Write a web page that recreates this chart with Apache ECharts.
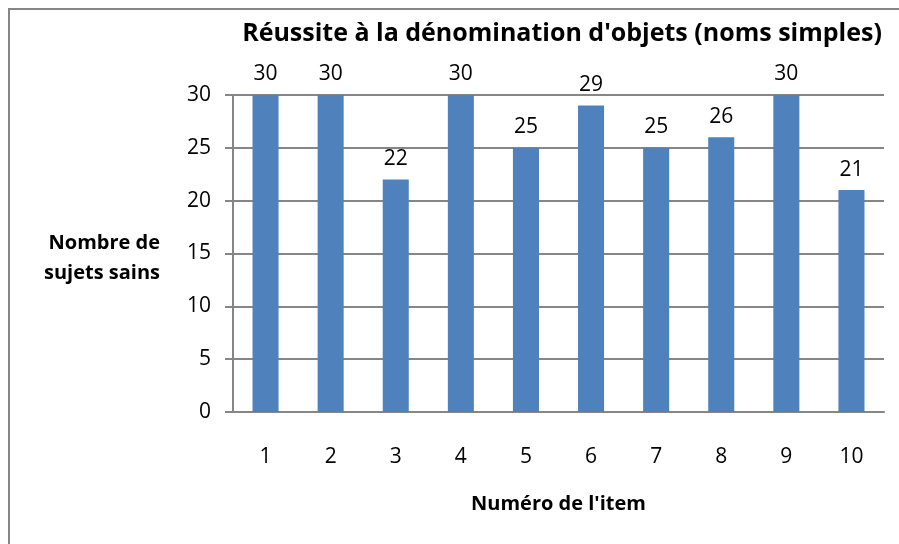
<!DOCTYPE html>
<html>
<head>
<meta charset="utf-8">
<script src="https://cdn.jsdelivr.net/npm/echarts@6/dist/echarts.min.js"></script>
<style>
  html, body { margin: 0; padding: 0; background: #fff; }
  #chart { width: 899px; height: 544px; }
</style>
</head>
<body>
<div id="chart"></div>
<script>
// données
const items = ["1", "2", "3", "4", "5", "6", "7", "8", "9", "10"];
const sujetsSains = [30, 30, 22, 30, 25, 29, 25, 26, 30, 21];
const yTicks = [0, 5, 10, 15, 20, 25, 30];

const font = "Open Sans";
const grey = "#868686";

const chart = echarts.init(document.getElementById("chart"));
chart.setOption({
  animation: false,
  textStyle: { fontFamily: font },
  title: {
    text: "Réussite à la dénomination d'objets (noms simples)",
    left: 557,
    top: 16,
    textAlign: "center",
    textStyle: { fontSize: 25, fontWeight: "bold", color: "#000", fontFamily: font }
  },
  graphic: [{
    type: "rect",
    shape: { x: 9, y: 9, width: 900, height: 560 },
    style: { fill: "none", stroke: grey, lineWidth: 2 },
    silent: true
  }, {
    // titre de l'axe vertical, horizontal comme dans l'original
    type: "text",
    x: 160,
    y: 258,
    style: {
      text: "Nombre de\nsujets sains",
      font: "bold 20px 'Open Sans'",
      fill: "#000",
      align: "right",
      verticalAlign: "middle",
      lineHeight: 30
    },
    silent: true
  }],
  grid: { left: 233, right: 15, top: 95, bottom: 132 },
  xAxis: {
    type: "category",
    data: items,
    name: "Numéro de l'item",
    nameLocation: "middle",
    nameGap: 82,
    nameTextStyle: { fontSize: 20, fontWeight: "bold", color: "#000" },
    axisLine: { lineStyle: { color: grey, width: 2 } },
    axisTick: { show: false },
    axisLabel: { color: "#000", fontSize: 21, margin: 35 }
  },
  yAxis: {
    type: "value",
    min: yTicks[0],
    max: yTicks[yTicks.length - 1],
    interval: 5,
    axisLine: { show: true, lineStyle: { color: grey, width: 2 } },
    axisTick: { show: true, length: 8, lineStyle: { color: grey, width: 2 } },
    axisLabel: { color: "#000", fontSize: 21, margin: 22 },
    splitLine: { lineStyle: { color: grey, width: 2 } }
  },
  series: [{
    type: "bar",
    data: sujetsSains,
    barWidth: "40%",
    itemStyle: { color: "#4F81BD" },
    label: { show: true, position: "top", distance: 10, color: "#000", fontSize: 21 }
  }]
});
</script>
</body>
</html>
